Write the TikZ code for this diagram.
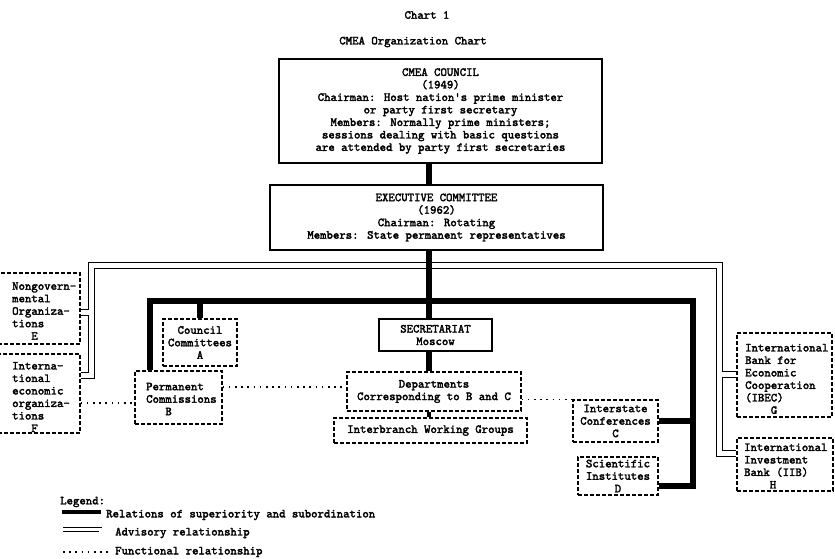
\documentclass[tikz,border=0pt]{standalone}
\usepackage{fontspec}
\usetikzlibrary{calc}
\newfontfamily\twfont{lmmono10-regular.otf}[FakeBold=2.4]
\newcommand\chfont{\twfont\fontsize{12.2}{12.5}\selectfont}
\tikzset{
  every node/.style={font=\chfont, inner sep=0pt},
  solidbox/.style={draw, line width=1.6pt},
  dbox/.style={draw, line width=1.1pt, dash pattern=on 4pt off 2pt},
  sup/.style={line width=5.5pt},
  adv/.style={line width=1pt},
  fun/.style={line width=1.8pt, dash pattern=on 1.6pt off 4.6pt},
}
\begin{document}
\begin{tikzpicture}[x=1pt,y=-1pt]
\useasboundingbox (0,0) rectangle (835,558);

% titles
\node (chart) at (427,15) {Chart 1};
\node (title) at (413,42) {CMEA Organization Chart};

% main boxes
\node[solidbox, minimum width=323pt, minimum height=104pt, align=center] (council) at (440.5,111)
  {CMEA COUNCIL\\(1949)\\Chairman: Host nation's prime minister\\or party first secretary\\Members: Normally prime ministers;\\sessions dealing with basic questions\\are attended by party first secretaries};
\node[solidbox, minimum width=333pt, minimum height=65pt, align=center] (exec) at (436.5,217.5)
  {EXECUTIVE COMMITTEE\\(1962)\\Chairman: Rotating\\Members: State permanent representatives};
\node[solidbox, minimum width=113pt, minimum height=32pt, align=center] (secr) at (435.5,335)
  {SECRETARIAT\\Moscow};

% dashed boxes
\node[dbox, minimum width=74pt, minimum height=47pt, align=center] (cc) at (200,342.5)
  {Council\\Committees\\A};
\node[dbox, minimum width=87pt, minimum height=53pt] (perm) at (178.5,397.5) {};
\node[anchor=west, align=left] (permt) at (146,399) {Permanent\\Commissions\\\hphantom{xxx}B};
\node[dbox, minimum width=174pt, minimum height=39pt, align=center] (dept) at (434,391.5)
  {Departments\\Corresponding to B and C};
\node[dbox, minimum width=193pt, minimum height=25pt] (inter) at (430.5,430.5)
  {Interbranch Working Groups};
\node[dbox, minimum width=85pt, minimum height=42pt, align=center] (conf) at (615.5,421)
  {Interstate\\Conferences\\C};
\node[dbox, minimum width=80pt, minimum height=38pt, align=center] (sci) at (618,476)
  {Scientific\\Institutes\\D};

\node[dbox, minimum width=82pt, minimum height=71pt] (ngo) at (39,308.5) {};
\node[anchor=west, align=left] (ngot) at (12,311) {Nongovern-\\mental\\Organiza-\\tions\\\hphantom{xxx}E};
\node[dbox, minimum width=82pt, minimum height=79pt] (ieo) at (39,393.5) {};
\node[anchor=west, align=left] (ieot) at (12,397) {Interna-\\tional\\economic\\organiza-\\tions\\\hphantom{xxx}F};

\node[dbox, minimum width=95pt, minimum height=84pt] (ibec) at (784.5,375) {};
\node[anchor=west, align=left] (ibect) at (745,379) {International\\Bank for\\Economic\\Cooperation\\(IBEC)\\\hphantom{xxxx}G};
\node[dbox, minimum width=96pt, minimum height=53pt] (iib) at (785,464.5) {};
\node[anchor=west, align=left] (iibt) at (744,466) {International\\Investment\\Bank (IIB)\\\hphantom{xxxx}H};

% helper coordinates
\coordinate (cx) at (429,0);
\coordinate (hy) at (0,301);
\coordinate (lx) at (150,0);
\coordinate (rx) at (693,0);
\coordinate (by) at (0,486);
\coordinate (eA) at (0,309);
\coordinate (eB) at (0,315);
\coordinate (fA) at (0,372);
\coordinate (fB) at (0,378);
\coordinate (gA) at (0,371);
\coordinate (gB) at (0,377);
\coordinate (hA) at (0,450);
\coordinate (hB) at (0,456);
\coordinate (ot) at (0,262);
\coordinate (it) at (0,268);
\coordinate (olx) at (88,0);
\coordinate (ilx) at (94,0);
\coordinate (orx) at (722,0);
\coordinate (irx) at (716,0);
\coordinate (d1) at (0,403);
\coordinate (d2) at (0,387);

% advisory (double) lines
\draw[adv] (ngo.east |- eA) -- (olx |- eA) -- (olx |- ot) -- (orx |- ot) -- (orx |- gA) -- (ibec.west |- gA);
\draw[adv] (ieo.east |- fB) -- (ilx |- fB) -- (ilx |- it) -- (irx |- it) -- (irx |- hB) -- (iib.west |- hB);
\draw[adv] (ngo.east |- eB) -- (olx |- eB) -- (olx |- fA) -- (ieo.east |- fA);
\draw[adv] (ibec.west |- gB) -- (orx |- gB) -- (orx |- hA) -- (iib.west |- hA);

% superiority (thick) lines
\draw[sup] (council.south -| cx) -- (exec.north -| cx);
\draw[sup] (exec.south -| cx) -- (secr.north -| cx);
\draw[sup] (secr.south -| cx) -- (dept.north -| cx);
\draw[line width=3.5pt] (dept.south -| cx) -- (inter.north -| cx);
\draw[sup, line join=miter] (perm.north -| lx) -- (lx |- hy) -- (rx |- hy) -- (rx |- by) -- (sci.east |- by);
\draw[sup] (cc.north) -- (cc.north |- hy);
\draw[sup] (conf.east) -- (conf.east -| rx);

% functional (dotted) lines
\draw[fun] (ieo.east |- d1) -- (perm.west |- d1);
\draw[fun] (perm.east |- d2) -- (dept.west |- d2);
\draw[fun] (dept.east |- conf.north west) -- (conf.north west);

% legend
\node[anchor=west] (leg) at (60,502) {Legend:};
\node[anchor=west] (l1) at (106,515) {Relations of superiority and subordination};
\node[anchor=west] (l2) at (115,533) {Advisory relationship};
\node[anchor=west] (l3) at (115,552) {Functional relationship};
\coordinate (s1) at (62,512);
\coordinate (e1) at (101,512);
\coordinate (s2a) at (63,527);
\coordinate (e2a) at (102,527);
\coordinate (s2b) at (63,531);
\coordinate (e2b) at (99,531);
\coordinate (s3) at (63,552);
\coordinate (e3) at (108,552);
\draw[line width=3.5pt] (s1) -- (e1);
\draw[adv] (s2a) -- (e2a);
\draw[adv] (s2b) -- (e2b);
\draw[fun] (s3) -- (e3);
\end{tikzpicture}
\end{document}
